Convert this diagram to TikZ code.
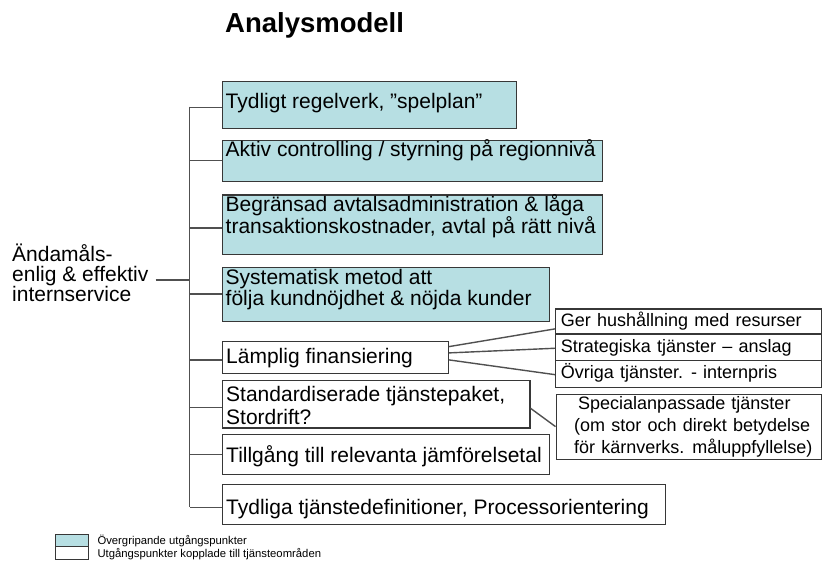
\documentclass[tikz,border=0pt]{standalone}
\usepackage{fontspec}
\setmainfont{Liberation Sans}
\usetikzlibrary{calc}
\definecolor{teal1}{RGB}{183,223,227}
\definecolor{edgec}{RGB}{55,55,55}
\definecolor{wirec}{RGB}{80,80,80}
\newcommand\rsmallfont{\fontsize{18}{21.7}\selectfont\spaceskip=6.2pt plus 1pt\relax}
\begin{document}
\begin{tikzpicture}[x=1pt,y=-1pt,
  box/.style={draw=edgec, line width=1.2pt, inner sep=0pt, anchor=north west},
  tealbox/.style={box, fill=teal1},
  whitebox/.style={box, fill=white},
  txt/.style={anchor=base west, inner sep=0pt, align=left, font=\fontsize{21}{21.6}\selectfont},
  smalltxt/.style={anchor=base west, inner sep=0pt, align=left, font=\rsmallfont},
  legtxt/.style={anchor=base west, inner sep=0pt, font=\fontsize{11.3}{13}\selectfont},
  wire/.style={draw=wirec, line width=1.4pt},
]
\useasboundingbox (0,0) rectangle (822,565);

% title
\node[anchor=base west, inner sep=0pt, font=\fontsize{27.5}{30}\selectfont\bfseries] (title) at (225,32.3) {Analysmodell};

% root label (anchor = baseline of last line)
\node[txt, font=\fontsize{21}{20}\selectfont] (root) at (12,301) {Ändamåls-\\enlig \& effektiv\\internservice};

% main boxes
\node[tealbox, minimum width=294.3pt, minimum height=47pt] (b1) at (221.7,81) {};
\node[txt] (t1) at (225.5,108.3) {Tydligt regelverk, ”spelplan”};

\node[tealbox, minimum width=380pt, minimum height=41pt] (b2) at (221.7,140) {};
\node[txt] (t2) at (225.5,156.7) {Aktiv controlling / styrning på regionnivå};

\node[tealbox, minimum width=380pt, minimum height=59.7pt] (b3) at (221.7,194.3) {};
\node[txt] (t3) at (225.5,233.3) {Begränsad avtalsadministration \& låga\\transaktionskostnader, avtal på rätt nivå};

\node[tealbox, minimum width=327.3pt, minimum height=54pt] (b4) at (221.7,267) {};
\node[txt, font=\fontsize{21}{21}\selectfont] (t4) at (225.5,305.5) {Systematisk metod att\\följa kundnöjdhet \& nöjda kunder};

\node[whitebox, minimum width=225.8pt, minimum height=32.3pt] (b5) at (222,340.7) {};
\node[txt] (t5) at (226,363.3) {Lämplig finansiering};

\node[whitebox, minimum width=307.3pt, minimum height=47.3pt] (b6) at (222,380) {};
\node[txt, font=\fontsize{21}{23.3}\selectfont] (t6) at (226,424.3) {Standardiserade tjänstepaket,\\Stordrift?};

\node[whitebox, minimum width=327pt, minimum height=40.5pt] (b7) at (222,433.5) {};
\node[txt] (t7) at (226,462.7) {Tillgång till relevanta jämförelsetal};

\node[whitebox, minimum width=443pt, minimum height=40pt] (b8) at (222,484) {};
\node[txt] (t8) at (226,514) {Tydliga tjänstedefinitioner, Processorientering};

% right boxes
\node[whitebox, minimum width=265.7pt, minimum height=25pt] (r1) at (555,308.3) {};
\node[smalltxt] (s1) at (560.7,326) {Ger hushållning med resurser};
\node[whitebox, minimum width=265.7pt, minimum height=26.7pt] (r2) at (555,333.3) {};
\node[smalltxt] (s2) at (560.7,352.5) {Strategiska tjänster – anslag};
\node[whitebox, minimum width=265.7pt, minimum height=26.7pt] (r3) at (555,360) {};
\node[smalltxt] (s3) at (560.7,378.5) {Övriga tjänster. - internpris};

\node[whitebox, minimum width=265.2pt, minimum height=65pt] (r4) at (555.5,394) {};
\node[smalltxt] (s4) at (574,453.3) {\hspace*{4pt}Specialanpassade tjänster\\(om stor och direkt betydelse\\för kärnverks. måluppfyllelse)};

% tree
\coordinate (tt) at (189.5,106.7);
\coordinate (tb) at (189.5,506.7);
\draw[wire] (tt) -- (tb);
\foreach \n/\s in {b1/-2.2, b2/0.5, b3/-3.3, b4/0.7, b5/-2.6, b6/-3, b7/-0.3, b8/-2.7}{
  \draw[wire] ([yshift=\s pt]\n.west) coordinate (tmp) -- (tmp -| tt);
}
\coordinate (rj) at (155.7,280);
\draw[wire] (rj) -- (rj -| tt);

% right connectors
\draw[wire] ([yshift=10.85pt]b5.east) -- ([yshift=-7.5pt]r1.west);
\draw[wire] ([yshift=4.55pt]b5.east) -- ([yshift=-1pt]r2.west);
\draw[wire] ([yshift=-2.45pt]b5.east) -- ([yshift=-0.7pt]r3.west);
\draw[wire] ([yshift=-4pt]b6.east) -- ([yshift=0.5pt]r4.west);

% legend
\node[tealbox, line width=1pt, minimum width=33.3pt, minimum height=11.7pt] (lg1) at (55,534.3) {};
\node[whitebox, line width=1pt, minimum width=33.3pt, minimum height=13.3pt] (lg2) at (55,546) {};
\node[legtxt] (l1) at (97.3,544) {Övergripande utgångspunkter};
\node[legtxt] (l2) at (97.3,557.5) {Utgångspunkter kopplade till tjänsteområden};
\end{tikzpicture}
\end{document}
